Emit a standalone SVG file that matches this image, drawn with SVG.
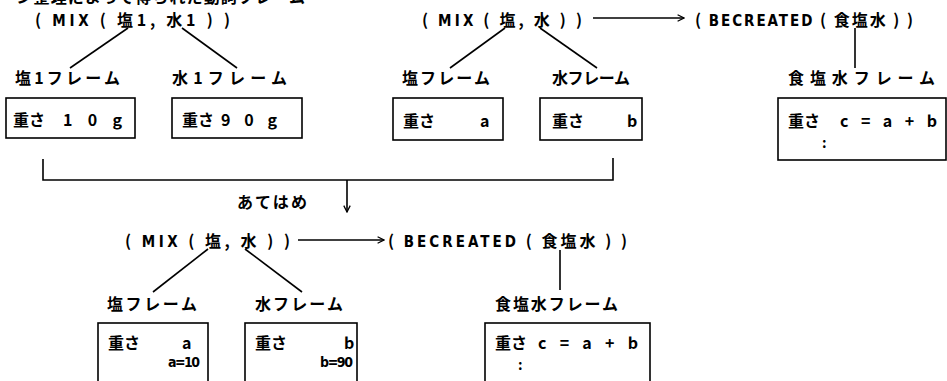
<svg xmlns="http://www.w3.org/2000/svg" width="947" height="381" viewBox="0 0 947 381">
<style>
.t{font-family:"Noto Sans CJK JP","Noto Sans",sans-serif;font-weight:bold;font-size:16px;fill:#000}
.c{font-family:"DejaVu Sans Condensed","DejaVu Sans",sans-serif;font-stretch:condensed;font-weight:bold;font-size:15px}
.s{font-family:"DejaVu Sans Condensed","DejaVu Sans",sans-serif;font-stretch:condensed;font-weight:bold;font-size:14px;fill:#000}
.d{font-family:"Noto Sans CJK JP","Noto Sans",sans-serif;font-weight:bold;font-size:14px;fill:#000}
.l{stroke:#000;stroke-width:1.6;fill:none}
.b{fill:#fff;stroke:#000;stroke-width:1.6}
</style>
<defs>
<marker id="ah" viewBox="0 0 10 10" refX="9" refY="5" markerWidth="8" markerHeight="8" markerUnits="userSpaceOnUse" orient="auto">
<path d="M1,1 L9,5 L1,9" fill="none" stroke="#000" stroke-width="1.6"/>
</marker>
</defs>
<rect width="947" height="381" fill="#fff"/>
<text class="t" x="0" y="3" font-size="17" textLength="305">ーン整理によって得られた動詞フレーム</text>

<g id="connectors">
<line class="l" x1="128" y1="28" x2="70" y2="68"/>
<line class="l" x1="182" y1="28" x2="237" y2="68"/>
<line class="l" x1="505" y1="28" x2="450" y2="68"/>
<line class="l" x1="540" y1="28" x2="597" y2="68"/>
<line class="l" x1="593" y1="18" x2="684" y2="18" marker-end="url(#ah)"/>
<line class="l" x1="855" y1="28" x2="855" y2="68"/>
<path class="l" d="M43,159 V180 H613 V158"/>
<line class="l" x1="347" y1="180" x2="347" y2="212" marker-end="url(#ah)"/>
<line class="l" x1="208" y1="249" x2="153" y2="292"/>
<line class="l" x1="245" y1="249" x2="302" y2="292"/>
<line class="l" x1="298" y1="240" x2="384" y2="240" marker-end="url(#ah)"/>
<line class="l" x1="560" y1="250" x2="560" y2="290"/>
</g>

<g id="mix1"><text class="t" x="35" y="26" textLength="195">( <tspan class="c">MIX</tspan> ( 塩1, 水1 ) )</text></g>
<g id="mix2"><text class="t" x="422" y="26" textLength="160">( <tspan class="c">MIX</tspan> ( 塩, 水 ) )</text></g>
<g id="becreated1"><text class="t" x="695" y="26" textLength="218">( <tspan class="c">BECREATED</tspan> ( 食塩水 ) )</text></g>

<g id="frame-salt1">
<text class="t" x="15" y="84" textLength="105">塩1フレーム</text>
<rect class="b" x="6" y="98" width="129" height="40"/>
<text class="t" x="13" y="126">重さ</text>
<text class="t" x="63" y="126" textLength="59">1 0 g</text>
</g>
<g id="frame-water1">
<text class="t" x="172" y="84" textLength="115">水1フレーム</text>
<rect class="b" x="172" y="98" width="130" height="40"/>
<text class="t" x="182" y="126">重さ</text>
<text class="t" x="221" y="126" textLength="56">9 0 g</text>
</g>
<g id="frame-salt">
<text class="t" x="402" y="84" textLength="88">塩フレーム</text>
<rect class="b" x="393" y="98" width="110" height="42"/>
<text class="t" x="403" y="127">重さ</text>
<text class="t" x="480" y="127">a</text>
</g>
<g id="frame-water">
<text class="t" x="552" y="84" textLength="78">水フレーム</text>
<rect class="b" x="540" y="98" width="102" height="42"/>
<text class="t" x="552" y="127">重さ</text>
<text class="t" x="627" y="127">b</text>
</g>
<g id="frame-brine">
<text class="t" x="788" y="84" textLength="147">食塩水フレーム</text>
<rect class="b" x="778" y="98" width="168" height="62"/>
<text class="t" x="788" y="127">重さ</text>
<text class="t" x="840" y="127" textLength="97">c = a + b</text>
<text class="d" x="822" y="148">:</text>
</g>

<g id="label-atehame"><text class="t" x="237" y="208" textLength="70">あてはめ</text></g>

<g id="mix3"><text class="t" x="125" y="247" textLength="165">( <tspan class="c">MIX</tspan> ( 塩, 水 ) )</text></g>
<g id="becreated2"><text class="t" x="388" y="247" textLength="239">( <tspan class="c">BECREATED</tspan> ( 食塩水 ) )</text></g>

<g id="frame-salt-b">
<text class="t" x="107" y="310" textLength="90">塩フレーム</text>
<rect class="b" x="98" y="323" width="110" height="80"/>
<text class="t" x="108" y="349">重さ</text>
<text class="t" x="182" y="349">a</text>
<text class="s" x="168" y="367" textLength="32">a=10</text>
</g>
<g id="frame-water-b">
<text class="t" x="255" y="310" textLength="88">水フレーム</text>
<rect class="b" x="245" y="323" width="112" height="80"/>
<text class="t" x="255" y="349">重さ</text>
<text class="t" x="344" y="349">b</text>
<text class="s" x="320" y="367" textLength="33">b=90</text>
</g>
<g id="frame-brine-b">
<text class="t" x="495" y="310" textLength="123">食塩水フレーム</text>
<rect class="b" x="485" y="323" width="165" height="80"/>
<text class="t" x="495" y="349">重さ</text>
<text class="t" x="538" y="349" textLength="100">c = a + b</text>
<text class="d" x="518" y="370">:</text>
</g>
</svg>
